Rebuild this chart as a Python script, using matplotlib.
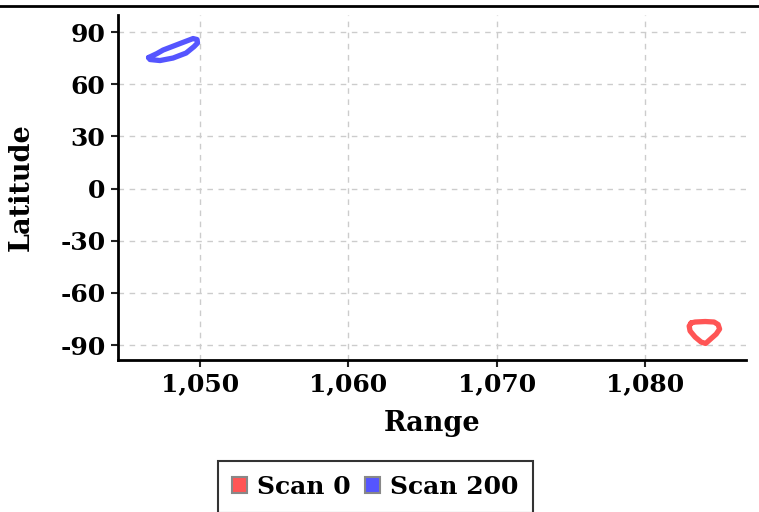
import matplotlib
matplotlib.use("Agg")
import matplotlib.pyplot as plt
from matplotlib.lines import Line2D
from matplotlib.patches import Patch
from matplotlib.ticker import FuncFormatter

plt.rcParams['font.family'] = ['DejaVu Serif']
plt.rcParams['font.weight'] = 'bold'
plt.rcParams['axes.unicode_minus'] = False

series_names = ["Scan 0", "Scan 200"]
series_colors = ["#FF5555", "#5555FF"]

scan0_range = [1083.1, 1083.37, 1084.05, 1084.65, 1084.92, 1085.02, 1084.79, 1084.38, 1084.08,
               1083.78, 1083.37, 1083.03, 1082.97, 1083.1]
scan0_lat = [-77.3, -76.76, -76.47, -76.76, -78.2, -80.8, -83.7, -86.8, -89.1,
             -88.3, -85.4, -81.9, -79.1, -77.3]

scan200_range = [1046.53, 1047.10, 1047.51, 1048.65, 1049.53, 1049.80, 1049.83, 1049.60, 1049.06,
                 1048.18, 1047.30, 1046.63, 1046.53]
scan200_lat = [75.34, 77.64, 79.65, 83.39, 86.26, 85.69, 83.67, 81.66, 77.92,
               75.05, 73.61, 74.19, 75.34]

xticks = [1050, 1060, 1070, 1080]
yticks = [90, 60, 30, 0, -30, -60, -90]

fig = plt.figure(figsize=(7.59, 5.12), dpi=100)
ax = fig.add_axes([118/759, 1-360/512, (746-118)/759, (360-15)/512])

ax.plot(scan0_range, scan0_lat, color=series_colors[0], lw=3.8, solid_joinstyle='round', solid_capstyle='round')
ax.plot(scan200_range, scan200_lat, color=series_colors[1], lw=3.8, solid_joinstyle='round', solid_capstyle='round')

ax.set_xlim(1044.47, 1086.8)
ax.set_ylim(-98.6, 99.8)
ax.set_xticks(xticks)
ax.set_yticks(yticks)
ax.xaxis.set_major_formatter(FuncFormatter(lambda v, p: f"{int(v):,}"))
ax.yaxis.set_major_formatter(FuncFormatter(lambda v, p: f"{int(v)}"))
ax.tick_params(labelsize=18, length=5, width=1.5, direction='out', color='#222222', pad=4)
for lab in ax.get_xticklabels() + ax.get_yticklabels():
    lab.set_fontweight('bold')
ax.grid(True, color='#cccccc', linestyle=(0, (4, 4)), linewidth=1)
ax.set_axisbelow(True)
for s in ['top', 'right']:
    ax.spines[s].set_visible(False)
for s in ['left', 'bottom']:
    ax.spines[s].set_linewidth(2)
    ax.spines[s].set_color('black')

ax.set_xlabel("Range", fontsize=19.5, fontweight='bold', labelpad=10)
ax.set_ylabel("Latitude", fontsize=19.5, fontweight='bold', labelpad=18)

handles = [Patch(facecolor=c, edgecolor='#888888', linewidth=1.5) for c in series_colors]
leg = fig.legend(handles, series_names, loc='upper left', bbox_to_anchor=(218/759, 1-461/512),
                 ncol=2, frameon=True, fancybox=False, handlelength=0.6, handleheight=0.6,
                 handletextpad=0.4, columnspacing=0.6, borderpad=0.55, borderaxespad=0,
                 prop={'weight': 'bold', 'size': 18})
leg.get_frame().set_edgecolor('black')
leg.get_frame().set_linewidth(1.5)

fig.add_artist(Line2D([0, 1], [1-6/512, 1-6/512], color='black', lw=2, transform=fig.transFigure))

fig.savefig("out.png", dpi=100)
